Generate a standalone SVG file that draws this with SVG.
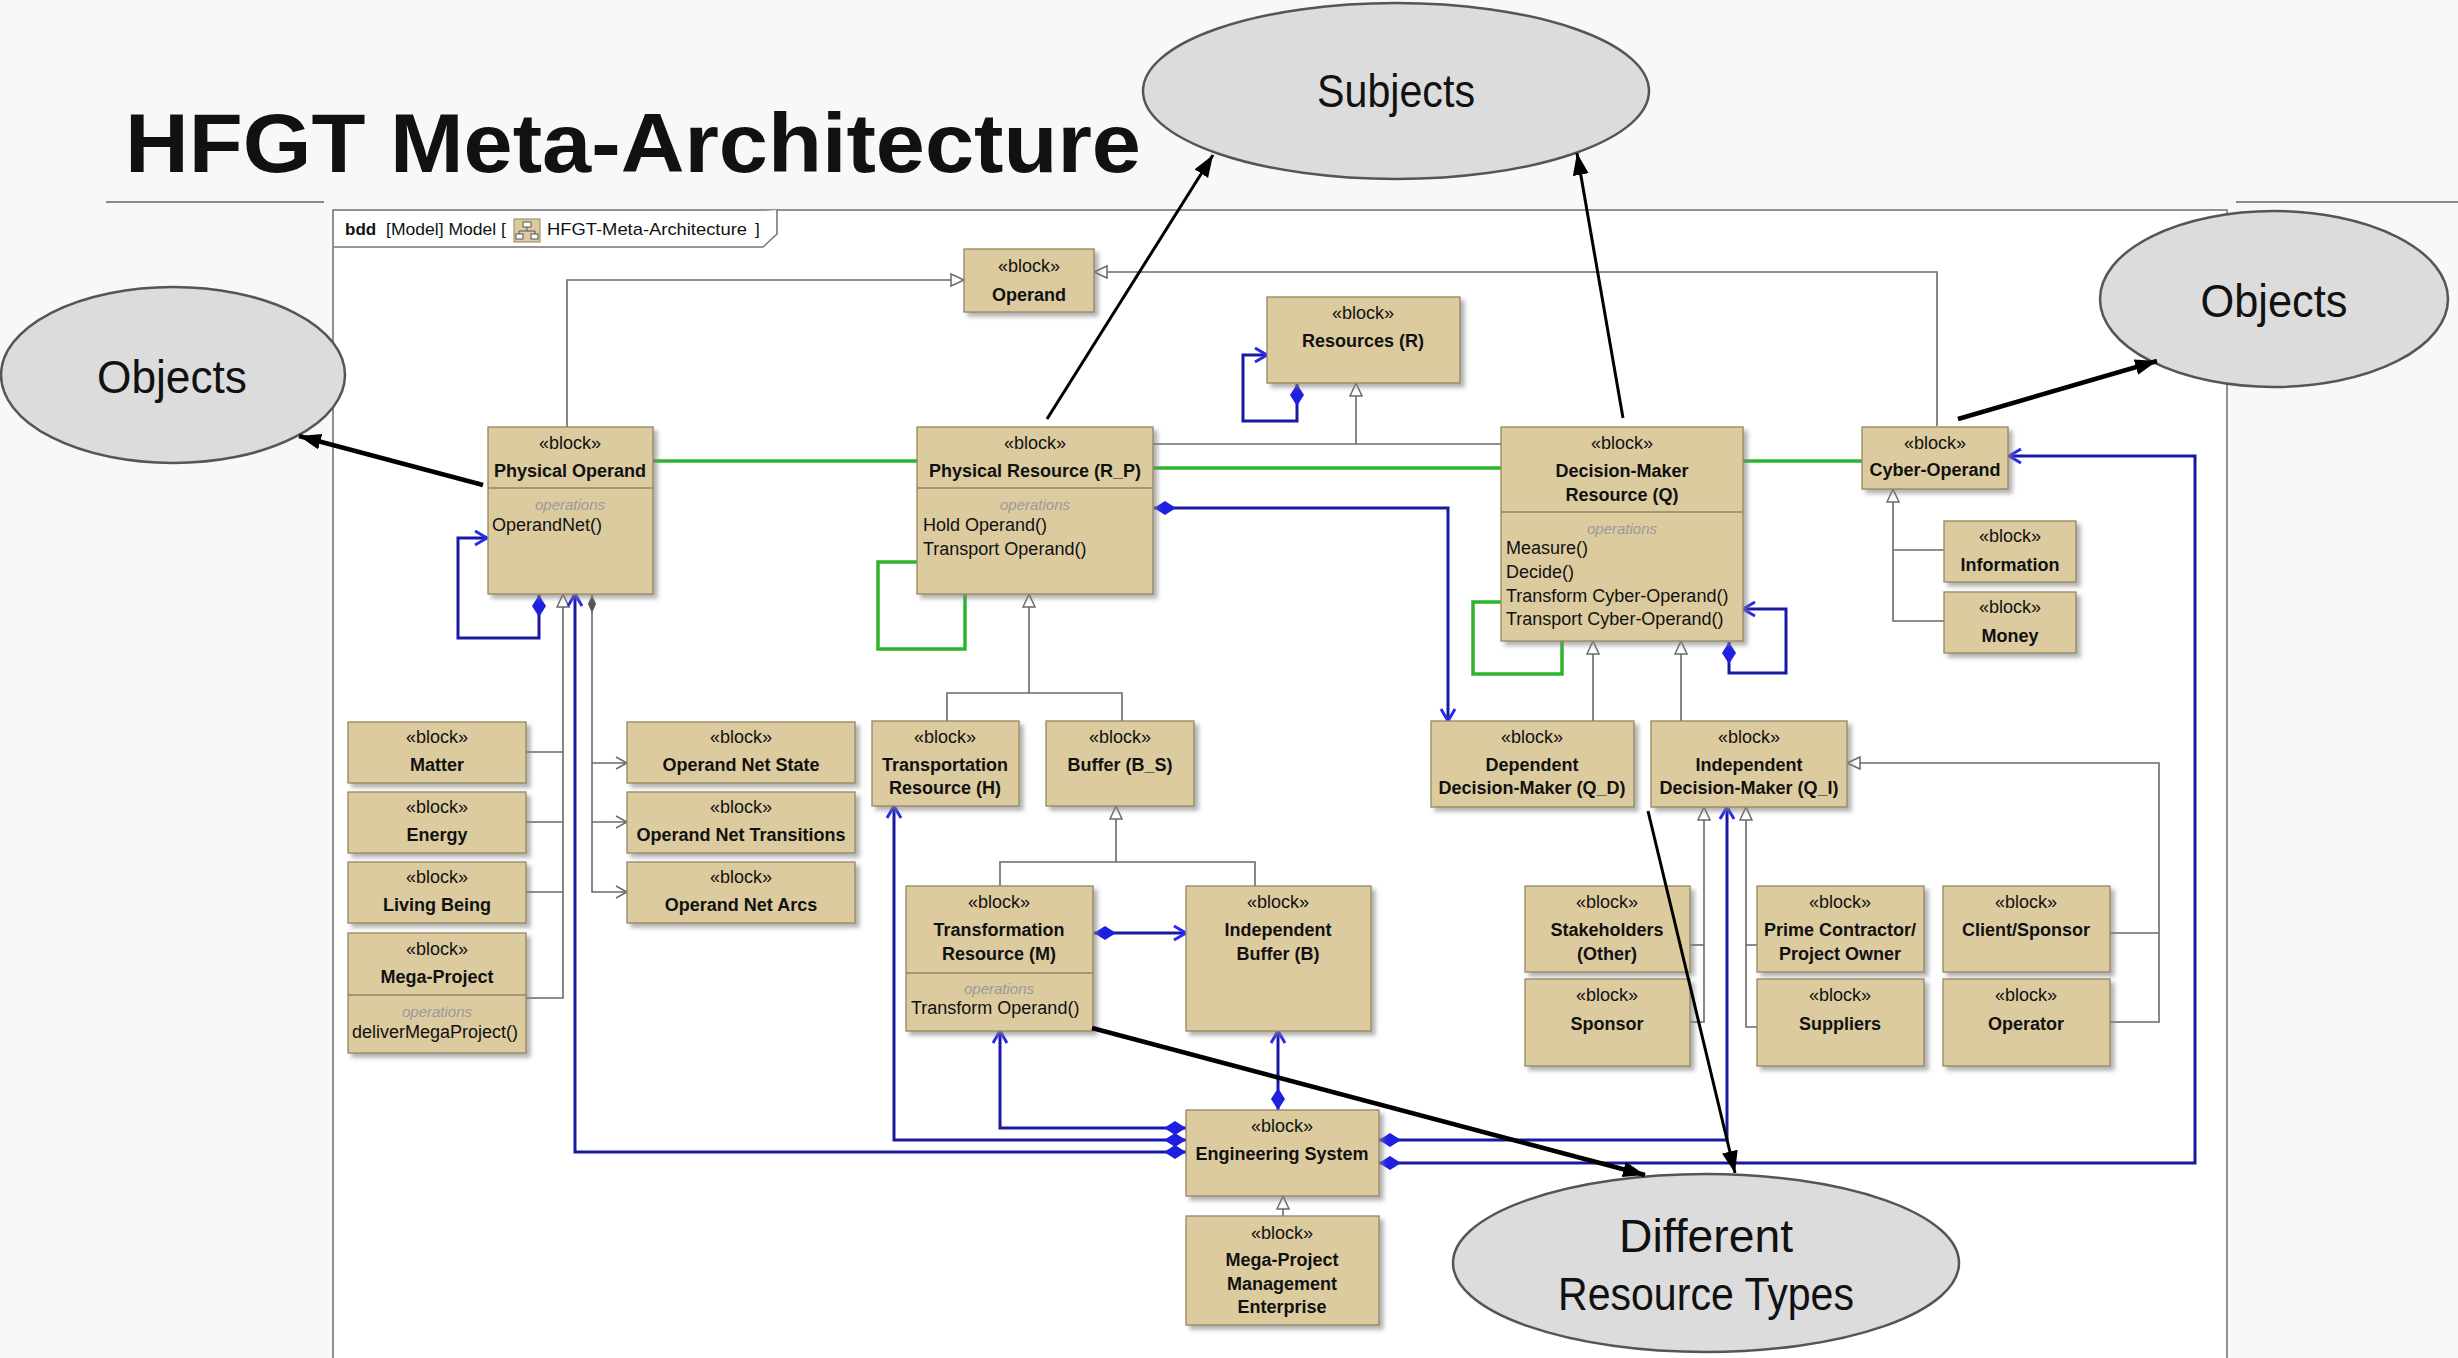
<svg xmlns="http://www.w3.org/2000/svg" width="2458" height="1358" viewBox="0 0 2458 1358">
  <defs>
    <style>
      .bg { fill: #f8f8f8; }
      .frame { fill: #ffffff; stroke: #777777; stroke-width: 1.6; }
      .tab { fill: #ffffff; stroke: #777777; stroke-width: 1.6; }
      .rule { stroke: #8a8a8a; stroke-width: 2; }
      .b { fill: #dccb9f; stroke: #968660; stroke-width: 1.3; filter: url(#sh); }
      .sep { stroke: #968660; stroke-width: 1.3; }
      text { font-family: "Liberation Sans", Arial, sans-serif; fill: #111111; }
      .st { font-size: 18px; text-anchor: middle; }
      .nm { font-size: 18px; text-anchor: middle; font-weight: bold; }
      .op { font-size: 15px; text-anchor: middle; font-style: italic; fill: #9a9a9a; }
      .ol { font-size: 18px; text-anchor: start; }
      .g { stroke: #6a6a6a; stroke-width: 1.6; fill: none; }
      .gr { stroke: #2cb52c; stroke-width: 3.5; fill: none; }
      .bl { stroke: #1818a0; stroke-width: 3; fill: none; }
      .k { stroke: #000000; fill: none; }
      .co { fill: #dcdcdc; stroke: #555555; stroke-width: 2.5; }
      .ct { font-size: 46px; text-anchor: middle; fill: #111111; }
    </style>
    <filter id="sh" x="-10%" y="-10%" width="130%" height="130%">
      <feDropShadow dx="4" dy="4" stdDeviation="2" flood-color="#808080" flood-opacity="0.6"/>
    </filter>
    <!-- generalization: hollow triangle -->
    <marker id="gen" markerUnits="userSpaceOnUse" markerWidth="16" markerHeight="16" refX="14" refY="7" orient="auto">
      <path d="M1,1 L14,7 L1,13 Z" fill="#ffffff" stroke="#6a6a6a" stroke-width="1.5"/>
    </marker>
    <!-- directed association: open stick arrow (gray) -->
    <marker id="ga" markerUnits="userSpaceOnUse" markerWidth="14" markerHeight="14" refX="12" refY="7" orient="auto">
      <path d="M1,1 L12,7 L1,13" fill="none" stroke="#6a6a6a" stroke-width="1.5"/>
    </marker>
    <!-- composition: filled diamond (gray) -->
    <marker id="gd" markerUnits="userSpaceOnUse" markerWidth="20" markerHeight="10" refX="0" refY="4" orient="auto">
      <path d="M0,4 L9,0 L18,4 L9,8 Z" fill="#555555"/>
    </marker>
    <!-- blue open arrow -->
    <marker id="ba" markerUnits="userSpaceOnUse" markerWidth="16" markerHeight="18" refX="13" refY="8" orient="auto">
      <path d="M1,1 L13,8 L1,15" fill="none" stroke="#2a2aee" stroke-width="3"/>
    </marker>
    <!-- blue composition diamond -->
    <marker id="bd" markerUnits="userSpaceOnUse" markerWidth="24" markerHeight="16" refX="0" refY="7" orient="auto">
      <path d="M0,7 L11,0 L22,7 L11,14 Z" fill="#1f1fe0"/>
    </marker>
    <!-- black callout arrowhead -->
    <marker id="kh" markerUnits="userSpaceOnUse" markerWidth="24" markerHeight="18" refX="22" refY="8" orient="auto">
      <path d="M0,0 L22,8 L0,16 Z" fill="#000000"/>
    </marker>
  </defs>

  <!-- slide background -->
  <rect class="bg" x="0" y="0" width="2458" height="1358"/>

  <!-- title -->
  <text x="125" y="172" font-size="84" font-weight="bold" textLength="1016" lengthAdjust="spacingAndGlyphs" fill="#000">HFGT Meta-Architecture</text>
  <line class="rule" x1="106" y1="202" x2="324" y2="202"/>
  <line class="rule" x1="2236" y1="202" x2="2458" y2="202"/>

  <!-- diagram frame -->
  <g id="frame">
    <rect class="frame" x="333" y="210" width="1894" height="1170"/>
    <path class="tab" d="M333,247 H763 L777,234 V210"/>
    <text x="345" y="235" font-size="17" font-weight="bold">bdd</text>
    <text x="386" y="235" font-size="17" textLength="120" lengthAdjust="spacingAndGlyphs">[Model] Model [</text>
    <rect x="514" y="219" width="26" height="23" fill="#dccb9f" stroke="#968660" stroke-width="1"/>
    <rect x="523" y="222" width="8" height="5" fill="#ffffff" stroke="#555" stroke-width="1"/>
    <path d="M527,227 V231 M519,231 H535 M519,231 V234 M535,231 V234" stroke="#555" stroke-width="1" fill="none"/>
    <rect x="516" y="234" width="7" height="5" fill="#ffffff" stroke="#555" stroke-width="1"/>
    <rect x="531" y="234" width="7" height="5" fill="#ffffff" stroke="#555" stroke-width="1"/>
    <text x="547" y="235" font-size="17" textLength="200" lengthAdjust="spacingAndGlyphs">HFGT-Meta-Architecture</text>
    <text x="755" y="235" font-size="17">]</text>
  </g>

  <!-- connectors -->
  <g id="connectors">
    <!-- generalizations (gray) -->
    <path class="g" d="M567,427 V280 H964" marker-end="url(#gen)"/>
    <path class="g" d="M1937,426 V272 H1094" marker-end="url(#gen)"/>
    <path class="g" d="M1153,444 H1501"/>
    <path class="g" d="M1356,444 V383" marker-end="url(#gen)"/>
    <path class="g" d="M947,721 V693 H1122 V721"/>
    <path class="g" d="M1029,693 V594" marker-end="url(#gen)"/>
    <path class="g" d="M1000,886 V862 H1255 V886"/>
    <path class="g" d="M1116,862 V806" marker-end="url(#gen)"/>
    <path class="g" d="M1593,721 V641" marker-end="url(#gen)"/>
    <path class="g" d="M1681,721 V641" marker-end="url(#gen)"/>
    <path class="g" d="M1944,550 H1893"/>
    <path class="g" d="M1944,621 H1893 V489" marker-end="url(#gen)"/>
    <path class="g" d="M526,752 H563 M526,822 H563 M526,892 H563"/>
    <path class="g" d="M526,998 H563 V594" marker-end="url(#gen)"/>
    <path class="g" d="M1690,945 H1704"/>
    <path class="g" d="M1690,1022 H1704 V807" marker-end="url(#gen)"/>
    <path class="g" d="M1757,945 H1746"/>
    <path class="g" d="M1757,1027 H1746 V807" marker-end="url(#gen)"/>
    <path class="g" d="M2110,933 H2159"/>
    <path class="g" d="M2110,1022 H2159 V763 H1847" marker-end="url(#gen)"/>
    <path class="g" d="M1283,1216 V1196" marker-end="url(#gen)"/>
    <!-- operand net parts (gray composition with arrows) -->
    <path class="g" d="M592,595 V892 H627" marker-start="url(#gd)" marker-end="url(#ga)"/>
    <path class="g" d="M592,763 H627" marker-end="url(#ga)"/>
    <path class="g" d="M592,822 H627" marker-end="url(#ga)"/>

    <!-- green links -->
    <path class="gr" d="M653,461 H917"/>
    <path class="gr" d="M1153,468 H1501"/>
    <path class="gr" d="M1743,461 H1862"/>
    <path class="gr" d="M917,562 H878 V649 H965 V594"/>
    <path class="gr" d="M1501,602 H1473 V674 H1562 V641"/>

    <!-- blue compositions -->
    <path class="bl" d="M539,595 V638 H458 V538 H487" marker-start="url(#bd)" marker-end="url(#ba)"/>
    <path class="bl" d="M1297,384 V421 H1243 V355 H1267" marker-start="url(#bd)" marker-end="url(#ba)"/>
    <path class="bl" d="M1154,508 H1448 V721" marker-start="url(#bd)" marker-end="url(#ba)"/>
    <path class="bl" d="M1729,642 V673 H1786 V609 H1743" marker-start="url(#bd)" marker-end="url(#ba)"/>
    <path class="bl" d="M1094,933 H1186" stroke-width="5" marker-start="url(#bd)" marker-end="url(#ba)"/>
    <path class="bl" d="M1278,1110 V1031" marker-start="url(#bd)" marker-end="url(#ba)"/>
    <path class="bl" d="M1186,1128 H1000 V1031" marker-start="url(#bd)" marker-end="url(#ba)"/>
    <path class="bl" d="M1186,1140 H894 V806" stroke-width="3.5" marker-start="url(#bd)" marker-end="url(#ba)"/>
    <path class="bl" d="M1186,1152 H575 V594" marker-start="url(#bd)" marker-end="url(#ba)"/>
    <path class="bl" d="M1379,1140 H1727 V807" stroke-width="3.5" marker-start="url(#bd)" marker-end="url(#ba)"/>
    <path class="bl" d="M1379,1163 H2195 V456 H2009" marker-start="url(#bd)" marker-end="url(#ba)"/>
  </g>

  <!-- blocks -->
  <g id="n-operand">
    <rect class="b" x="964" y="249" width="130" height="63"/>
    <text class="st" x="1029" y="272">«block»</text>
    <text class="nm" x="1029" y="301">Operand</text>
  </g>
  <g id="n-physical-operand">
    <rect class="b" x="488" y="427" width="165" height="167"/>
    <line class="sep" x1="488" y1="488" x2="653" y2="488"/>
    <text class="st" x="570" y="449">«block»</text>
    <text class="nm" x="570" y="477">Physical Operand</text>
    <text class="op" x="570" y="510">operations</text>
    <text class="ol" x="492" y="531">OperandNet()</text>
  </g>
  <g id="n-physical-resource">
    <rect class="b" x="917" y="427" width="236" height="167"/>
    <line class="sep" x1="917" y1="488" x2="1153" y2="488"/>
    <text class="st" x="1035" y="449">«block»</text>
    <text class="nm" x="1035" y="477">Physical Resource (R_P)</text>
    <text class="op" x="1035" y="510">operations</text>
    <text class="ol" x="923" y="531">Hold Operand()</text>
    <text class="ol" x="923" y="555">Transport Operand()</text>
  </g>
  <g id="n-resources">
    <rect class="b" x="1267" y="297" width="193" height="86"/>
    <text class="st" x="1363" y="319">«block»</text>
    <text class="nm" x="1363" y="347">Resources (R)</text>
  </g>
  <g id="n-decision-maker">
    <rect class="b" x="1501" y="427" width="242" height="214"/>
    <line class="sep" x1="1501" y1="512" x2="1743" y2="512"/>
    <text class="st" x="1622" y="449">«block»</text>
    <text class="nm" x="1622" y="477">Decision-Maker</text>
    <text class="nm" x="1622" y="501">Resource (Q)</text>
    <text class="op" x="1622" y="534">operations</text>
    <text class="ol" x="1506" y="554">Measure()</text>
    <text class="ol" x="1506" y="578">Decide()</text>
    <text class="ol" x="1506" y="602">Transform Cyber-Operand()</text>
    <text class="ol" x="1506" y="625">Transport Cyber-Operand()</text>
  </g>
  <g id="n-cyber-operand">
    <rect class="b" x="1862" y="427" width="146" height="62"/>
    <text class="st" x="1935" y="449">«block»</text>
    <text class="nm" x="1935" y="476">Cyber-Operand</text>
  </g>
  <g id="n-information">
    <rect class="b" x="1944" y="521" width="132" height="61"/>
    <text class="st" x="2010" y="542">«block»</text>
    <text class="nm" x="2010" y="571">Information</text>
  </g>
  <g id="n-money">
    <rect class="b" x="1944" y="592" width="132" height="61"/>
    <text class="st" x="2010" y="613">«block»</text>
    <text class="nm" x="2010" y="642">Money</text>
  </g>
  <g id="n-dependent-dm">
    <rect class="b" x="1431" y="721" width="203" height="86"/>
    <text class="st" x="1532" y="743">«block»</text>
    <text class="nm" x="1532" y="771">Dependent</text>
    <text class="nm" x="1532" y="794">Decision-Maker (Q_D)</text>
  </g>
  <g id="n-independent-dm">
    <rect class="b" x="1651" y="721" width="196" height="86"/>
    <text class="st" x="1749" y="743">«block»</text>
    <text class="nm" x="1749" y="771">Independent</text>
    <text class="nm" x="1749" y="794">Decision-Maker (Q_I)</text>
  </g>
  <g id="n-stakeholders">
    <rect class="b" x="1525" y="886" width="165" height="86"/>
    <text class="st" x="1607" y="908">«block»</text>
    <text class="nm" x="1607" y="936">Stakeholders</text>
    <text class="nm" x="1607" y="960">(Other)</text>
  </g>
  <g id="n-sponsor">
    <rect class="b" x="1525" y="979" width="165" height="87"/>
    <text class="st" x="1607" y="1001">«block»</text>
    <text class="nm" x="1607" y="1030">Sponsor</text>
  </g>
  <g id="n-prime-contractor">
    <rect class="b" x="1757" y="886" width="167" height="86"/>
    <text class="st" x="1840" y="908">«block»</text>
    <text class="nm" x="1840" y="936">Prime Contractor/</text>
    <text class="nm" x="1840" y="960">Project Owner</text>
  </g>
  <g id="n-suppliers">
    <rect class="b" x="1757" y="979" width="167" height="87"/>
    <text class="st" x="1840" y="1001">«block»</text>
    <text class="nm" x="1840" y="1030">Suppliers</text>
  </g>
  <g id="n-client-sponsor">
    <rect class="b" x="1943" y="886" width="167" height="86"/>
    <text class="st" x="2026" y="908">«block»</text>
    <text class="nm" x="2026" y="936">Client/Sponsor</text>
  </g>
  <g id="n-operator">
    <rect class="b" x="1943" y="979" width="167" height="87"/>
    <text class="st" x="2026" y="1001">«block»</text>
    <text class="nm" x="2026" y="1030">Operator</text>
  </g>
  <g id="n-transportation">
    <rect class="b" x="872" y="721" width="147" height="85"/>
    <text class="st" x="945" y="743">«block»</text>
    <text class="nm" x="945" y="771">Transportation</text>
    <text class="nm" x="945" y="794">Resource (H)</text>
  </g>
  <g id="n-buffer-bs">
    <rect class="b" x="1046" y="721" width="148" height="85"/>
    <text class="st" x="1120" y="743">«block»</text>
    <text class="nm" x="1120" y="771">Buffer (B_S)</text>
  </g>
  <g id="n-transformation">
    <rect class="b" x="906" y="886" width="187" height="145"/>
    <line class="sep" x1="906" y1="973" x2="1093" y2="973"/>
    <text class="st" x="999" y="908">«block»</text>
    <text class="nm" x="999" y="936">Transformation</text>
    <text class="nm" x="999" y="960">Resource (M)</text>
    <text class="op" x="999" y="994">operations</text>
    <text class="ol" x="911" y="1014">Transform Operand()</text>
  </g>
  <g id="n-independent-buffer">
    <rect class="b" x="1186" y="886" width="185" height="145"/>
    <text class="st" x="1278" y="908">«block»</text>
    <text class="nm" x="1278" y="936">Independent</text>
    <text class="nm" x="1278" y="960">Buffer (B)</text>
  </g>
  <g id="n-engineering-system">
    <rect class="b" x="1186" y="1110" width="193" height="86"/>
    <text class="st" x="1282" y="1132">«block»</text>
    <text class="nm" x="1282" y="1160">Engineering System</text>
  </g>
  <g id="n-mpme">
    <rect class="b" x="1186" y="1216" width="193" height="109"/>
    <text class="st" x="1282" y="1239">«block»</text>
    <text class="nm" x="1282" y="1266">Mega-Project</text>
    <text class="nm" x="1282" y="1290">Management</text>
    <text class="nm" x="1282" y="1313">Enterprise</text>
  </g>
  <g id="n-matter">
    <rect class="b" x="348" y="722" width="178" height="61"/>
    <text class="st" x="437" y="743">«block»</text>
    <text class="nm" x="437" y="771">Matter</text>
  </g>
  <g id="n-energy">
    <rect class="b" x="348" y="792" width="178" height="61"/>
    <text class="st" x="437" y="813">«block»</text>
    <text class="nm" x="437" y="841">Energy</text>
  </g>
  <g id="n-living-being">
    <rect class="b" x="348" y="862" width="178" height="61"/>
    <text class="st" x="437" y="883">«block»</text>
    <text class="nm" x="437" y="911">Living Being</text>
  </g>
  <g id="n-mega-project">
    <rect class="b" x="348" y="933" width="178" height="120"/>
    <line class="sep" x1="348" y1="995" x2="526" y2="995"/>
    <text class="st" x="437" y="955">«block»</text>
    <text class="nm" x="437" y="983">Mega-Project</text>
    <text class="op" x="437" y="1017">operations</text>
    <text class="ol" x="352" y="1038">deliverMegaProject()</text>
  </g>
  <g id="n-operand-net-state">
    <rect class="b" x="627" y="722" width="228" height="61"/>
    <text class="st" x="741" y="743">«block»</text>
    <text class="nm" x="741" y="771">Operand Net State</text>
  </g>
  <g id="n-operand-net-transitions">
    <rect class="b" x="627" y="792" width="228" height="61"/>
    <text class="st" x="741" y="813">«block»</text>
    <text class="nm" x="741" y="841">Operand Net Transitions</text>
  </g>
  <g id="n-operand-net-arcs">
    <rect class="b" x="627" y="862" width="228" height="61"/>
    <text class="st" x="741" y="883">«block»</text>
    <text class="nm" x="741" y="911">Operand Net Arcs</text>
  </g>

  <!-- callouts -->
  <g id="callout-subjects">
    <ellipse class="co" cx="1396" cy="91" rx="253" ry="88"/>
    <text class="ct" x="1396" y="107" textLength="158" lengthAdjust="spacingAndGlyphs">Subjects</text>
  </g>
  <g id="callout-objects-left">
    <ellipse class="co" cx="173" cy="375" rx="172" ry="88"/>
    <text class="ct" x="172" y="393" textLength="150" lengthAdjust="spacingAndGlyphs">Objects</text>
  </g>
  <g id="callout-objects-right">
    <ellipse class="co" cx="2274" cy="299" rx="174" ry="88"/>
    <text class="ct" x="2274" y="317" textLength="147" lengthAdjust="spacingAndGlyphs">Objects</text>
  </g>
  <g id="callout-resource-types">
    <ellipse class="co" cx="1706" cy="1263" rx="253" ry="89"/>
    <text class="ct" x="1706" y="1252" textLength="174" lengthAdjust="spacingAndGlyphs">Different</text>
    <text class="ct" x="1706" y="1310" textLength="296" lengthAdjust="spacingAndGlyphs">Resource Types</text>
  </g>
  <g id="callout-arrows">
    <path class="k" d="M483,485 L299,436" stroke-width="4.5" marker-end="url(#kh)"/>
    <path class="k" d="M1047,419 L1213,155" stroke-width="3" marker-end="url(#kh)"/>
    <path class="k" d="M1623,418 L1577,153" stroke-width="3" marker-end="url(#kh)"/>
    <path class="k" d="M1958,419 L2157,361" stroke-width="4.5" marker-end="url(#kh)"/>
    <path class="k" d="M1092,1028 L1645,1175" stroke-width="4.5" marker-end="url(#kh)"/>
    <path class="k" d="M1648,811 L1735,1173" stroke-width="3" marker-end="url(#kh)"/>
  </g>
</svg>
